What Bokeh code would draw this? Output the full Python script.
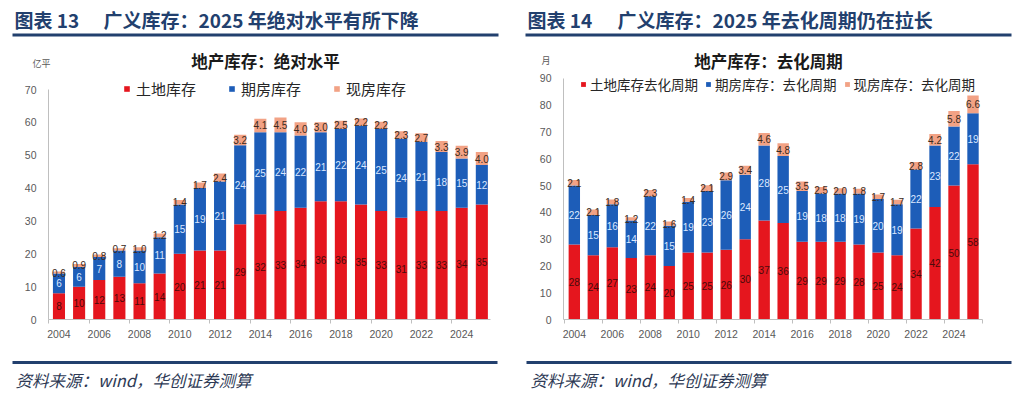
from bokeh.plotting import figure
from bokeh.models import Range1d, FixedTicker, Legend, LegendItem, ColumnDataSource
from bokeh.layouts import column, row
from bokeh.embed import file_html
from bokeh.resources import INLINE
from bokeh.core.properties import value

# ---------------- data ----------------
years = list(range(2004, 2026))
tick_years = [2004, 2006, 2008, 2010, 2012, 2014, 2016, 2018, 2020, 2022, 2024]

# chart 13: absolute level (亿平)
land_area = [8, 10, 12, 13, 11, 14, 20, 21, 21, 29, 32, 33, 34, 36, 36, 35, 33, 31, 33, 33, 34, 35]
presale_area = [6, 6, 7, 8, 10, 11, 15, 19, 21, 24, 25, 24, 22, 21, 22, 24, 25, 24, 21, 18, 15, 12]
existing_area = [0.6, 0.9, 0.8, 0.7, 1.0, 1.2, 1.4, 1.7, 2.4, 3.2, 4.1, 4.5, 4.0, 3.0, 2.5, 2.2, 2.2, 2.3, 2.7, 3.3, 3.9, 4.0]
names_area = ["土地库存", "期房库存", "现房库存"]
yticks_area = [0, 10, 20, 30, 40, 50, 60, 70]

# chart 14: destocking cycle (月)
land_cycle = [28, 24, 27, 23, 24, 20, 25, 25, 26, 30, 37, 36, 29, 29, 29, 28, 25, 24, 34, 42, 50, 58]
presale_cycle = [22, 15, 16, 14, 22, 15, 19, 23, 26, 24, 28, 25, 19, 18, 18, 19, 20, 19, 22, 23, 22, 19]
existing_cycle = [2.1, 2.1, 1.8, 1.2, 2.3, 1.6, 1.4, 2.1, 2.9, 3.4, 4.6, 4.8, 3.5, 2.5, 2.0, 1.8, 1.7, 1.7, 2.8, 4.2, 5.8, 6.6]
names_cycle = ["土地库存去化周期", "期房库存：去化周期", "现房库存：去化周期"]
yticks_cycle = [0, 10, 20, 30, 40, 50, 60, 70, 80, 90]

# ---------------- style ----------------
RED = "#E5161E"
BLUE = "#1D5DB8"
ORANGE = "#F2A285"
NAVY = "#22406E"
AXIS = "#BFBFBF"
TICKTXT = "#595959"
CJK = "Noto Sans CJK SC"
LAT = "Liberation Sans"

TOTAL_W = 1022
TOP = 72      # canvas y of chart row top
BOT = 345     # canvas y of chart row bottom
FOOT_BOT = 392


def make_chart(land, presale, existing, names, yticks, width, xr,
               frame_left, frame_right, y0_px, ytop_px, page_x0,
               leg_x, leg_y_center, leg_font, leg_glyph, leg_standoff, leg_spacing):
    ymax = yticks[-1]
    scale = (y0_px - ytop_px) / ymax
    # frame reaches the top of the figure; extend the range so the scale matches
    yend = (y0_px - TOP) / scale
    p = figure(width=width, height=BOT - TOP,
               x_range=Range1d(*xr), y_range=Range1d(0, yend),
               output_backend="svg", toolbar_location=None,
               min_border_left=frame_left - page_x0,
               min_border_right=page_x0 + width - frame_right,
               min_border_top=0,
               min_border_bottom=BOT - y0_px)
    p.outline_line_color = None
    p.xgrid.visible = False
    p.ygrid.visible = False
    p.background_fill_color = "white"
    p.border_fill_color = "white"

    src = ColumnDataSource(dict(
        year=years, land=land, presale=presale, existing=existing,
        m_land=[a / 2 for a in land],
        m_pre=[a + b / 2 for a, b in zip(land, presale)],
        m_ex=[a + b + c / 2 for a, b, c in zip(land, presale, existing)],
        t_land=[str(int(round(a))) for a in land],
        t_pre=[str(int(round(b))) for b in presale],
        t_ex=["%.1f" % c for c in existing],
    ))
    rs = p.vbar_stack(["land", "presale", "existing"], x="year", width=0.6,
                      fill_color=[RED, BLUE, ORANGE], line_color=None, source=src)

    common = dict(x="year", source=src, text_align="center", text_baseline="middle",
                  text_font_size="10px", text_font=value(LAT))
    p.text(y="m_land", text="t_land", text_color="#4A0A0A", **common)
    p.text(y="m_pre", text="t_pre", text_color="#DCE8FF", **common)
    p.text(y="m_ex", text="t_ex", text_color="#3A2A20", **common)

    leg_h = int(round(leg_font))
    legend = Legend(
        items=[LegendItem(label=n, renderers=[r]) for n, r in zip(names, rs)],
        orientation="horizontal",
        location=(int(leg_x - frame_left), int(round(y0_px - (leg_y_center + leg_h / 2)))),
        label_text_font=CJK, label_text_font_size="%spx" % leg_font,
        label_text_color="#262626",
        glyph_width=leg_glyph, glyph_height=leg_glyph,
        label_standoff=leg_standoff, spacing=leg_spacing,
        label_height=leg_h, padding=0, margin=0,
        border_line_color=None, background_fill_alpha=0,
    )
    p.add_layout(legend)

    # axes
    p.yaxis.ticker = FixedTicker(ticks=yticks)
    p.yaxis.bounds = (0, ymax)
    p.yaxis.axis_line_color = AXIS
    p.yaxis.major_tick_line_color = None
    p.yaxis.major_tick_out = 0
    p.yaxis.minor_tick_line_color = None
    p.yaxis.major_label_standoff = 12
    p.yaxis.major_label_text_font = LAT
    p.yaxis.major_label_text_font_size = "10.5px"
    p.yaxis.major_label_text_color = TICKTXT

    p.xaxis.ticker = FixedTicker(ticks=tick_years,
                                 minor_ticks=[t - 0.5 for t in tick_years] + [years[-1] + 0.5])
    p.xaxis.axis_line_color = AXIS
    p.xaxis.major_tick_line_color = None
    p.xaxis.major_tick_out = 0
    p.xaxis.major_tick_in = 0
    p.xaxis.minor_tick_line_color = AXIS
    p.xaxis.minor_tick_in = 0
    p.xaxis.minor_tick_out = 4
    p.xaxis.major_label_standoff = 6
    p.xaxis.major_label_text_font = LAT
    p.xaxis.major_label_text_font_size = "10.5px"
    p.xaxis.major_label_text_color = TICKTXT
    return p


LEFT_W = 515
left = make_chart(land_area, presale_area, existing_area, names_area, yticks_area,
                  width=LEFT_W, xr=(2003.48, 2025.43),
                  frame_left=48, frame_right=490, y0_px=319, ytop_px=89, page_x0=0,
                  leg_x=123, leg_y_center=91, leg_font=15, leg_glyph=7, leg_standoff=6, leg_spacing=32)
right = make_chart(land_cycle, presale_cycle, existing_cycle, names_cycle, yticks_cycle,
                   width=TOTAL_W - LEFT_W, xr=(2003.43, 2025.50),
                   frame_left=563, frame_right=982, y0_px=323, ytop_px=78, page_x0=LEFT_W,
                   leg_x=580, leg_y_center=91, leg_font=13.5, leg_glyph=6, leg_standoff=4, leg_spacing=7)


def blank(y0, y1):
    f = figure(width=TOTAL_W, height=y1 - y0, x_range=Range1d(0, TOTAL_W), y_range=Range1d(y1, y0),
               output_backend="svg", toolbar_location=None,
               x_axis_location=None, y_axis_location=None, min_border=0)
    f.outline_line_color = None
    f.xgrid.visible = False
    f.ygrid.visible = False
    return f


# ---------------- header ----------------
head = blank(0, TOP)
head.text(x=[14, 527], y=[19, 19], text=["图表 13", "图表 14"],
          text_font=value(CJK), text_font_style="bold", text_font_size="19px",
          text_color=NAVY, text_baseline="middle")
head.text(x=[103, 617], y=[19, 19],
          text=["广义库存：2025 年绝对水平有所下降", "广义库存：2025 年去化周期仍在拉长"],
          text_font=value(CJK), text_font_style="bold", text_font_size="19px",
          text_color=NAVY, text_baseline="middle")
head.segment(x0=[12, 525], y0=[34.5, 34.5], x1=[498, 1011], y1=[34.5, 34.5],
             line_color=NAVY, line_width=3)
head.text(x=[265, 768], y=[60, 60], text=["地产库存：绝对水平", "地产库存：去化周期"],
          text_font=value(CJK), text_font_style="bold", text_font_size="16.5px",
          text_color="#1A1A1A", text_align="center", text_baseline="middle")
head.text(x=[41, 545.5], y=[63, 60], text=["亿平", "月"],
          text_font=value(CJK), text_font_size="9px",
          text_color="#595959", text_align="center", text_baseline="middle")

# ---------------- footer ----------------
foot = blank(BOT, FOOT_BOT)
foot.segment(x0=[12, 526], y0=[362, 362], x1=[497, 1011], y1=[362, 362],
             line_color=NAVY, line_width=3)
foot.text(x=[15, 530], y=[379.5, 379.5], text=["资料来源：wind，华创证券测算", "资料来源：wind，华创证券测算"],
          text_font=value(CJK), text_font_style="italic", text_font_size="16.5px",
          text_color="#2E3A55", text_baseline="middle")

p = column(head, row(left, right), foot)
open("out.html", "w").write(file_html(p, INLINE))
